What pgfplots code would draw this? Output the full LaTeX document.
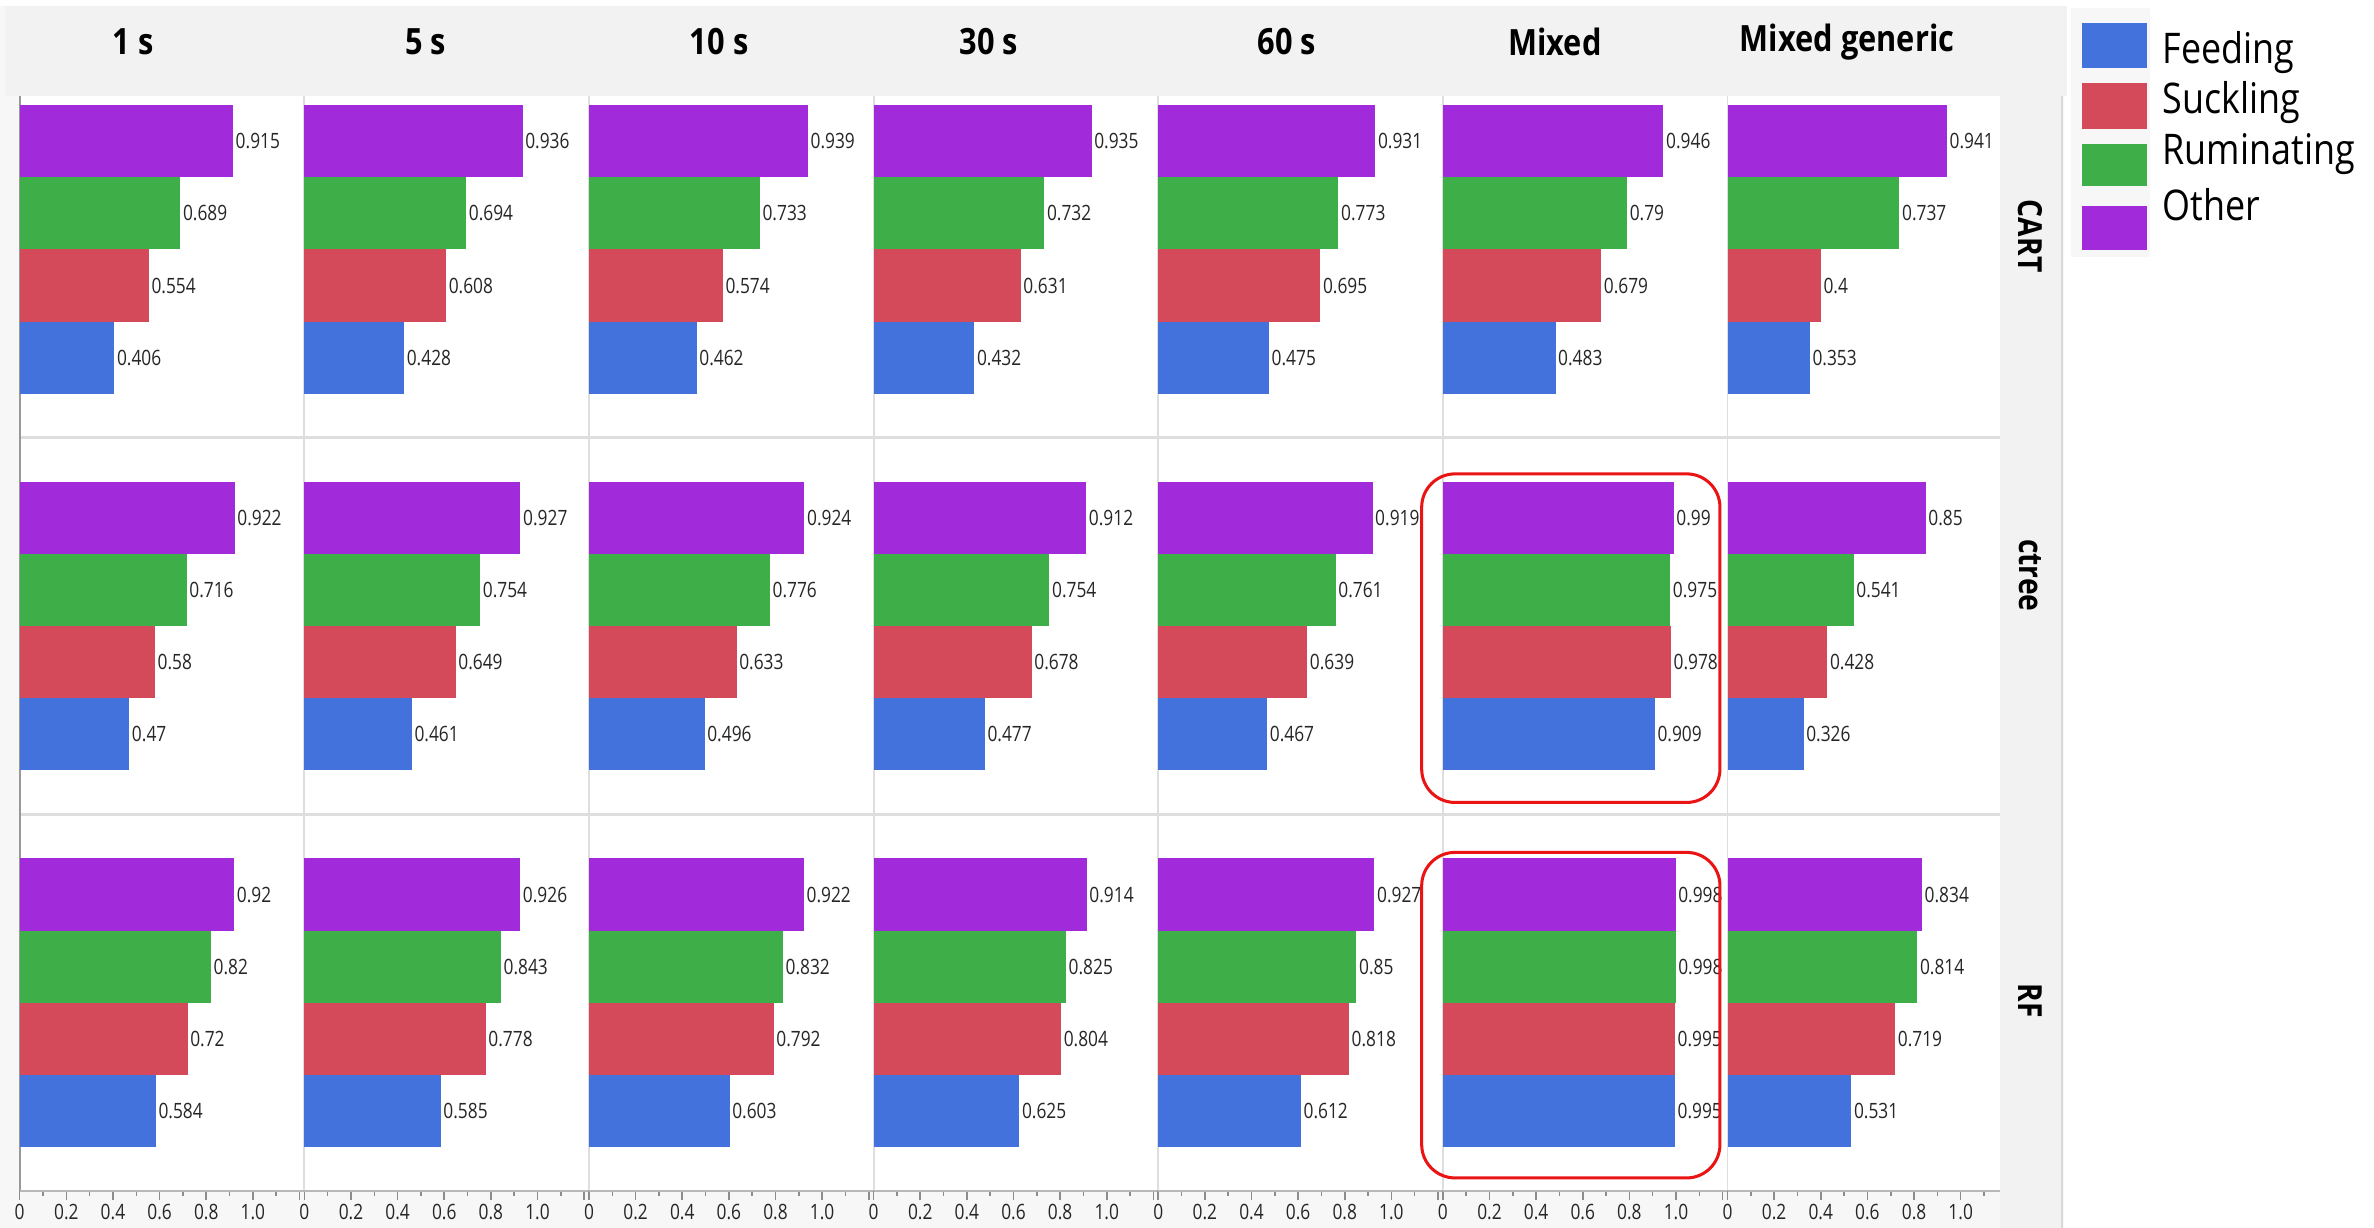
\documentclass[border=0pt]{standalone}
\usepackage{pgfplots}
\pgfplotsset{compat=1.18}
\usepackage{fontspec}
\setmainfont{Open Sans}
\newfontfamily\labfont[FakeStretch=0.82]{Open Sans}
\newfontfamily\hdrfont[FakeStretch=0.85]{Open Sans}

\definecolor{cFeed}{RGB}{68,114,220}
\definecolor{cSuck}{RGB}{212,74,90}
\definecolor{cRum}{RGB}{61,174,72}
\definecolor{cOther}{RGB}{161,42,219}
\definecolor{winbg}{RGB}{247,247,247}
\definecolor{stripbg}{RGB}{242,242,242}
\definecolor{gridc}{RGB}{222,222,222}
\definecolor{boxred}{RGB}{235,20,20}

\newlength\U
\setlength\U{0.5bp}

\pgfplotsset{
  panel/.style={
    scale only axis, anchor=north west, clip=false,
    xmin=0, xmax=1.2208, width=188\U,
    hide y axis,
    xbar, bar width=1,
    point meta=x,
    nodes near coords, nodes near coords align=horizontal,
    every node near coord/.append style={
      font=\labfont\fontsize{7}{8}\selectfont, text=black!85,
      anchor=west, inner sep=0.7bp},
    /pgf/number format/fixed,
    /pgf/number format/precision=3,
    /pgf/number format/assume math mode=true,
  },
  lastcol/.style={xmax=1.1688, width=180\U},
  row1/.style={hide x axis, ymin=-1.109, ymax=3.63, height=225.6\U},
  row2/.style={hide x axis, ymin=-1.118, ymax=4.118, height=249\U},
  row3/.style={
    ymin=-1.109, ymax=4.109, height=248.6\U,
    axis x line*=bottom,
    x axis line style={-, draw=black!28, line width=0.7bp},
    xtick={0,0.2,0.4,0.6,0.8,1.0,1.2},
    xticklabels={0,0.2,0.4,0.6,0.8,1.0,{}},
    minor xtick={0.1,0.3,0.5,0.7,0.9,1.1},
    tick align=outside,
    major tick length=3bp, minor tick length=1.7bp,
    every tick/.style={black!45, line width=0.5bp},
    xticklabel style={font=\labfont\fontsize{7}{8}\selectfont,
      text=black!85, inner sep=1.2bp},
  },
}

% one facet: column, row style, top edge, then Feeding, Suckling, Ruminating, Other
\newcommand\panel[7]{%
  \begin{axis}[panel, #2, at={({(13+188*#1)*\U},{#3*\U})}]
    \addplot[fill=cFeed,  draw=none, bar shift=0pt] coordinates {(#4,0)};
    \addplot[fill=cSuck,  draw=none, bar shift=0pt] coordinates {(#5,1)};
    \addplot[fill=cRum,   draw=none, bar shift=0pt] coordinates {(#6,2)};
    \addplot[fill=cOther, draw=none, bar shift=0pt] coordinates {(#7,3)};
  \end{axis}}

\begin{document}
\begin{tikzpicture}[x=0.5bp, y=0.5bp]
  \useasboundingbox (0,0) rectangle (1568,811);
  \fill[white] (0,0) rectangle (1568,811);
  % plot window, strips and panel area
  \fill[winbg] (0,0) rectangle (1363,807);
  \fill[stripbg] (3,747.6) rectangle (1365,807);
  \fill[stripbg] (1321,0) rectangle (1362,747.6);
  \draw[black!15, line width=0.6bp] (1362,0) -- (1362,747.6);
  \fill[white] (13,24.4) rectangle (1321,747.6);
  % panel separators
  \foreach \i in {1,...,6}
    \draw[gridc, line width=0.6bp] ({13+188*\i},24.4) -- ({13+188*\i},747.6);
  \draw[gridc, line width=0.8bp] (13,522) -- (1321,522);
  \draw[gridc, line width=0.8bp] (13,273) -- (1321,273);
  \draw[black!40, line width=0.7bp] (13,24.4) -- (13,747.6);

  % CART
  \panel{0}{row1}{747.6}{0.406}{0.554}{0.689}{0.915}
  \panel{1}{row1}{747.6}{0.428}{0.608}{0.694}{0.936}
  \panel{2}{row1}{747.6}{0.462}{0.574}{0.733}{0.939}
  \panel{3}{row1}{747.6}{0.432}{0.631}{0.732}{0.935}
  \panel{4}{row1}{747.6}{0.475}{0.695}{0.773}{0.931}
  \panel{5}{row1}{747.6}{0.483}{0.679}{0.79}{0.946}
  \panel{6}{row1,lastcol}{747.6}{0.353}{0.4}{0.737}{0.941}
  % ctree
  \panel{0}{row2}{522}{0.47}{0.58}{0.716}{0.922}
  \panel{1}{row2}{522}{0.461}{0.649}{0.754}{0.927}
  \panel{2}{row2}{522}{0.496}{0.633}{0.776}{0.924}
  \panel{3}{row2}{522}{0.477}{0.678}{0.754}{0.912}
  \panel{4}{row2}{522}{0.467}{0.639}{0.761}{0.919}
  \panel{5}{row2}{522}{0.909}{0.978}{0.975}{0.99}
  \panel{6}{row2,lastcol}{522}{0.326}{0.428}{0.541}{0.85}
  % RF
  \panel{0}{row3}{273}{0.584}{0.72}{0.82}{0.92}
  \panel{1}{row3}{273}{0.585}{0.778}{0.843}{0.926}
  \panel{2}{row3}{273}{0.603}{0.792}{0.832}{0.922}
  \panel{3}{row3}{273}{0.625}{0.804}{0.825}{0.914}
  \panel{4}{row3}{273}{0.612}{0.818}{0.85}{0.927}
  \panel{5}{row3}{273}{0.995}{0.995}{0.998}{0.998}
  \panel{6}{row3,lastcol}{273}{0.531}{0.719}{0.814}{0.834}

  % highlighted facets
  \draw[boxred, line width=1bp, rounded corners=22\U] (939,281) rectangle (1136,498);
  \draw[boxred, line width=1bp, rounded corners=22\U] (939,33) rectangle (1136,248);

  % column headers
  \begin{scope}[font=\hdrfont\bfseries\fontsize{12}{14}\selectfont]
    \node at (88,783.5) {1 s};
    \node at (281,783.5) {5 s};
    \node at (475,783.5) {10 s};
    \node at (653,783.5) {30 s};
    \node at (850,783.5) {60 s};
    \node at (1027,783.5) {Mixed};
    \node at (1220,783.5) {Mixed generic};
  \end{scope}
  % row headers
  \begin{scope}[font=\hdrfont\bfseries\fontsize{11}{13}\selectfont]
    \node[rotate=-90] at (1341,655) {CART};
    \node[rotate=-90] at (1341,431) {ctree};
    \node[rotate=-90] at (1341,150) {RF};
  \end{scope}

  % legend
  \fill[winbg] (1368,641) rectangle (1420,806);
  \fill[cFeed]  (1375,766) rectangle (1418,796);
  \fill[cSuck]  (1375,726) rectangle (1418,756);
  \fill[cRum]   (1375,688) rectangle (1418,716);
  \fill[cOther] (1375,646) rectangle (1418,675);
  \begin{scope}[font=\hdrfont\fontsize{14}{16}\selectfont, inner sep=0pt]
    \node[anchor=west] at (1428,776) {Feeding};
    \node[anchor=west] at (1428,743) {Suckling};
    \node[anchor=west] at (1428,709) {Ruminating};
    \node[anchor=west] at (1428,676) {Other};
  \end{scope}
\end{tikzpicture}
\end{document}
